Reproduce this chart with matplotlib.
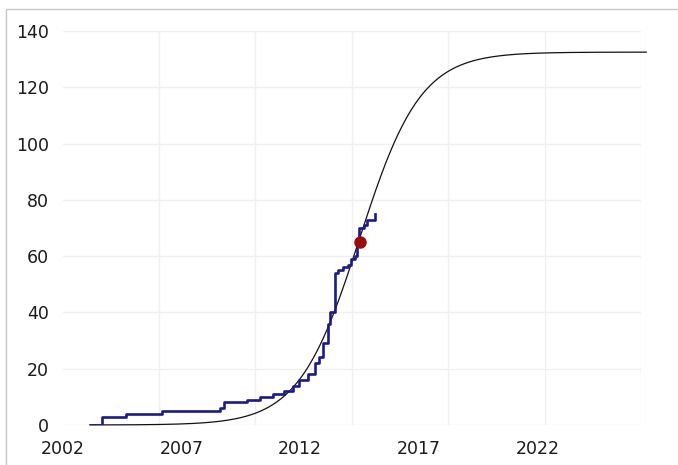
import numpy as np
import matplotlib
matplotlib.use("Agg")
import matplotlib.pyplot as plt
from matplotlib.lines import Line2D

# step data: (year the value starts, cumulative count)
step_years = [2003.16, 2003.65, 2004.66, 2006.18, 2008.63, 2008.80, 2009.76, 2010.32,
              2010.85, 2011.30, 2011.69, 2011.97, 2012.31, 2012.63, 2012.81, 2012.96,
              2013.15, 2013.26, 2013.47, 2013.61, 2013.82, 2014.03, 2014.15, 2014.32,
              2014.40, 2014.46, 2014.67, 2014.81, 2015.13]
step_values = [0, 3, 4, 5, 6, 8, 9, 10,
               11, 12, 14, 16, 18, 22, 24, 29,
               36, 40, 54, 55, 56, 57, 59, 60,
               64, 70, 71, 73, 75]

# fitted logistic curve parameters
fit_capacity = 132.5
fit_rate = 0.78
fit_midpoint = 2014.5
fit_start, fit_end = 2003.16, 2026.57

# highlighted point
point_year = [2014.53]
point_value = [64.9]

x_labels = [2002, 2007, 2012, 2017, 2022]
y_labels = [0, 20, 40, 60, 80, 100, 120, 140]

fig = plt.figure(figsize=(6.78, 4.65), dpi=100)
ax = fig.add_axes([62.7 / 678, 1 - 425 / 465, (641 - 62.7) / 678, (425 - 31) / 465])

t = np.linspace(fit_start, fit_end, 400)
fit = fit_capacity / (1 + np.exp(-fit_rate * (t - fit_midpoint)))
ax.plot(t, fit, color="#111111", lw=0.9, clip_on=False, zorder=2)

ax.plot(step_years, step_values, drawstyle="steps-post", color="#1a1a88", lw=1.9, zorder=3)
ax.plot(point_year, point_value, "o", color="#9a0b0b", markersize=8, zorder=4)

xmin, xmax = 2002, 2026.35
ax.set_xlim(xmin, xmax)
ax.set_ylim(0, 140)
ax.set_xticks(x_labels)
ax.set_xticks(np.linspace(xmin, xmax, 7), minor=True)
ax.set_yticks(y_labels)
ax.grid(which="minor", axis="x", color="#f0f0f0", lw=1)
ax.grid(which="major", axis="y", color="#f0f0f0", lw=1)
ax.set_axisbelow(True)
ax.tick_params(which="both", length=0, labelsize=12.5, colors="#1a1a1a")
ax.tick_params(axis="x", pad=11)
ax.tick_params(axis="y", pad=10)
for s in ax.spines.values():
    s.set_visible(False)

# outer frame (top and left edges only visible)
fx = 6 / 678
fy = 1 - 9.5 / 465
fig.add_artist(Line2D([fx, fx, 1], [0, fy, fy], transform=fig.transFigure, color="#c8c8c8", lw=1))

fig.savefig("out.png", dpi=100)
